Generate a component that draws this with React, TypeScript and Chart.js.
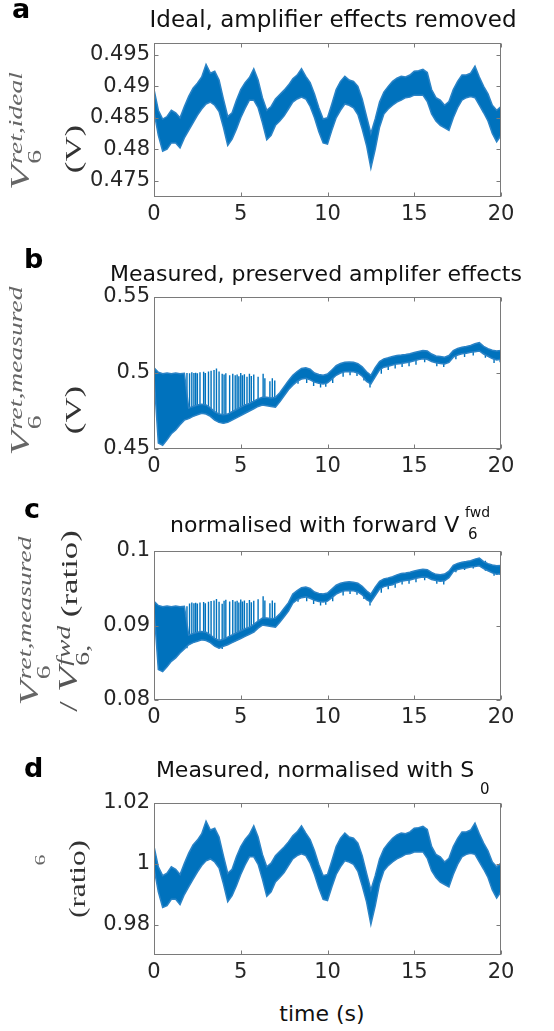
import React, { useEffect, useRef } from "react";
import { Chart, registerables } from "chart.js";
Chart.register(...registerables);

const BLUE = "#0072BD";
const EDGE = "#2a83c6";
const SANS = '"DejaVu Sans", sans-serif';
const SERIF = '"Liberation Serif", "DejaVu Serif", serif';

// time axis (s)
const time = [
  0, 0.25, 0.5, 0.75, 1, 1.25, 1.5, 1.75, 2, 2.25, 2.5, 2.75, 3, 3.25, 3.5, 3.75, 4, 4.25, 4.5, 4.75,
  5, 5.25, 5.5, 5.75, 6, 6.25, 6.5, 6.75, 7, 7.25, 7.5, 7.75, 8, 8.25, 8.5, 8.75, 9, 9.25, 9.5, 9.75,
  10, 10.25, 10.5, 10.75, 11, 11.25, 11.5, 11.75, 12, 12.25, 12.5, 12.75, 13, 13.25, 13.5, 13.75, 14, 14.25, 14.5, 14.75,
  15, 15.25, 15.5, 15.75, 16, 16.25, 16.5, 16.75, 17, 17.25, 17.5, 17.75, 18, 18.25, 18.5, 18.75, 19, 19.25, 19.5, 19.75, 20,
];
const xTicks = [0, 5, 10, 15, 20];

// (a) ideal return voltage: upper / lower envelope of the noisy trace (V)
const idealUpper = [
  0.4895, 0.4862, 0.4848, 0.4852, 0.4862, 0.4858, 0.4850, 0.4868, 0.4884, 0.4897,
  0.4905, 0.4915, 0.4935, 0.4921, 0.4924, 0.4910, 0.4880, 0.4852, 0.4858, 0.4878,
  0.4895, 0.4906, 0.4914, 0.4928, 0.4910, 0.4882, 0.4862, 0.4868, 0.4880, 0.4887,
  0.4894, 0.4902, 0.4912, 0.4918, 0.4928, 0.4916, 0.4906, 0.4888, 0.4866, 0.4848,
  0.4850, 0.4872, 0.4895, 0.4908, 0.4916, 0.4910, 0.4908, 0.4900, 0.4880, 0.4852,
  0.4825, 0.4848, 0.4875, 0.4891, 0.4900, 0.4908, 0.4913, 0.4916, 0.4915, 0.4918,
  0.4924, 0.4925, 0.4927, 0.4922, 0.4895, 0.4882, 0.4878, 0.4870, 0.4876, 0.4895,
  0.4908, 0.4918, 0.4918, 0.4921, 0.4932, 0.4915, 0.4900, 0.4888, 0.4870, 0.4862, 0.4868,
];
const idealLower = [
  0.4860, 0.4822, 0.4797, 0.4800, 0.4810, 0.4810, 0.4802, 0.4818, 0.4830, 0.4842,
  0.4854, 0.4864, 0.4872, 0.4875, 0.4870, 0.4860, 0.4835, 0.4806, 0.4816, 0.4832,
  0.4850, 0.4865, 0.4878, 0.4878, 0.4866, 0.4842, 0.4815, 0.4822, 0.4838, 0.4845,
  0.4853, 0.4864, 0.4875, 0.4880, 0.4883, 0.4880, 0.4868, 0.4850, 0.4828, 0.4810,
  0.4808, 0.4830, 0.4850, 0.4862, 0.4872, 0.4870, 0.4866, 0.4855, 0.4832, 0.4806,
  0.4770, 0.4800, 0.4835, 0.4856, 0.4864, 0.4870, 0.4875, 0.4878, 0.4882, 0.4883,
  0.4886, 0.4886, 0.4886, 0.4876, 0.4856, 0.4845, 0.4838, 0.4834, 0.4830, 0.4850,
  0.4866, 0.4878, 0.4882, 0.4884, 0.4882, 0.4870, 0.4858, 0.4845, 0.4825, 0.4812, 0.4822,
];
const idealTicks = [0.475, 0.48, 0.485, 0.49, 0.495];

// (b) measured return voltage (V)
const measuredUpper = [
  0.5035, 0.5005, 0.4995, 0.5000, 0.4995, 0.5000, 0.4995, 0.4998, 0.4770, 0.4780,
  0.4790, 0.4795, 0.4790, 0.4770, 0.4745, 0.4730, 0.4725, 0.4730, 0.4745, 0.4760,
  0.4775, 0.4790, 0.4800, 0.4815, 0.4830, 0.4840, 0.4840, 0.4835, 0.4840, 0.4870,
  0.4910, 0.4950, 0.4985, 0.5010, 0.5030, 0.5035, 0.5025, 0.5000, 0.4990, 0.4985,
  0.4993, 0.5020, 0.5048, 0.5062, 0.5070, 0.5072, 0.5070, 0.5062, 0.5040, 0.5008,
  0.4985, 0.5035, 0.5075, 0.5093, 0.5100, 0.5108, 0.5115, 0.5118, 0.5122, 0.5127,
  0.5135, 0.5142, 0.5148, 0.5145, 0.5125, 0.5112, 0.5108, 0.5104, 0.5115, 0.5148,
  0.5162, 0.5170, 0.5175, 0.5181, 0.5192, 0.5200, 0.5175, 0.5160, 0.5150, 0.5145, 0.5148,
];
const measuredLower = [
  0.4980, 0.4540, 0.4525, 0.4560, 0.4600, 0.4625, 0.4660, 0.4690, 0.4700, 0.4715,
  0.4725, 0.4735, 0.4730, 0.4715, 0.4690, 0.4675, 0.4670, 0.4675, 0.4690, 0.4705,
  0.4720, 0.4735, 0.4750, 0.4765, 0.4780, 0.4790, 0.4785, 0.4780, 0.4775, 0.4810,
  0.4850, 0.4890, 0.4920, 0.4945, 0.4960, 0.4965, 0.4955, 0.4940, 0.4932, 0.4928,
  0.4935, 0.4960, 0.4985, 0.5000, 0.5008, 0.5010, 0.5008, 0.5000, 0.4980, 0.4945,
  0.4928, 0.4975, 0.5020, 0.5038, 0.5045, 0.5052, 0.5060, 0.5063, 0.5068, 0.5072,
  0.5080, 0.5088, 0.5093, 0.5090, 0.5075, 0.5068, 0.5063, 0.5060, 0.5070, 0.5104,
  0.5118, 0.5126, 0.5130, 0.5137, 0.5140, 0.5145, 0.5125, 0.5110, 0.5095, 0.5085, 0.5090,
];
const measuredTicks = [0.45, 0.5, 0.55];

// spikes (switching glitches and dips) drawn as vertical strokes
const spikeTimes = [
  1.9, 2.05, 2.18, 2.3, 2.4, 2.5, 2.65, 2.86, 2.96, 3.14, 3.29, 3.46, 3.6, 3.75, 3.93, 4.04, 4.14, 4.36,
  4.54, 4.68, 4.79, 4.89, 5.0, 5.1, 5.21, 5.36, 5.5, 5.61, 5.75, 6.0, 6.29, 6.39, 6.68, 6.82, 6.96,
  8.3, 8.8, 9.2, 9.6, 9.9, 10.3, 10.9, 11.3, 11.7, 12.1, 12.45, 13.1, 13.5, 13.9, 14.3, 14.7, 15.1,
  15.6, 16.3, 16.7, 17.4, 17.9, 18.4, 19.1, 19.6, 19.95,
];
const measuredSpikeLow = [
  0.4695, 0.4700, 0.4710, 0.4715, 0.4720, 0.4725, 0.4730, 0.4735, 0.4730, 0.4725, 0.4712, 0.4695, 0.4685,
  0.4675, 0.4670, 0.4670, 0.4672, 0.4682, 0.4692, 0.4700, 0.4707, 0.4712, 0.4720, 0.4727, 0.4732, 0.4742,
  0.4750, 0.4756, 0.4765, 0.4780, 0.4790, 0.4788, 0.4782, 0.4780, 0.4776,
  0.4930, 0.4935, 0.4915, 0.4905, 0.4910, 0.4935, 0.4975, 0.4985, 0.4980, 0.4950, 0.4905, 0.4995, 0.5020,
  0.5030, 0.5040, 0.5045, 0.5055, 0.5070, 0.5045, 0.5040, 0.5090, 0.5105, 0.5115, 0.5100, 0.5065, 0.5070,
];
const measuredSpikeHigh = [
  0.5000, 0.4998, 0.5005, 0.5000, 0.5002, 0.4998, 0.5005, 0.5008, 0.5000, 0.5010, 0.5015, 0.5020, 0.5030,
  0.5010, 0.4995, 0.4990, 0.4998, 0.4985, 0.4995, 0.4985, 0.4990, 0.4978, 0.5000, 0.4985, 0.4992, 0.4975,
  0.4995, 0.4980, 0.4990, 0.4975, 0.4995, 0.4965, 0.4945, 0.4965, 0.4950,
  0.5000, 0.5020, 0.4990, 0.4980, 0.4985, 0.5010, 0.5050, 0.5060, 0.5050, 0.5020, 0.4980, 0.5070, 0.5090,
  0.5100, 0.5110, 0.5120, 0.5130, 0.5140, 0.5100, 0.5100, 0.5150, 0.5170, 0.5180, 0.5170, 0.5140, 0.5140,
];

// (c) measured return normalised with forward voltage (ratio)
const ratioUpper = [
  0.09325, 0.09269, 0.09251, 0.09260, 0.09251, 0.09260, 0.09251, 0.09256, 0.08872, 0.08891,
  0.08909, 0.08919, 0.08909, 0.08872, 0.08826, 0.08798, 0.08815, 0.08845, 0.08873, 0.08901,
  0.08929, 0.08957, 0.08976, 0.09015, 0.09060, 0.09099, 0.09099, 0.09090, 0.09099, 0.09156,
  0.09231, 0.09306, 0.09422, 0.09469, 0.09507, 0.09516, 0.09497, 0.09450, 0.09431, 0.09422,
  0.09437, 0.09488, 0.09541, 0.09567, 0.09582, 0.09586, 0.09582, 0.09567, 0.09526, 0.09465,
  0.09422, 0.09516, 0.09592, 0.09626, 0.09639, 0.09654, 0.09680, 0.09699, 0.09706, 0.09716,
  0.09731, 0.09744, 0.09755, 0.09750, 0.09712, 0.09687, 0.09680, 0.09690, 0.09730, 0.09807,
  0.09834, 0.09849, 0.09858, 0.09870, 0.09891, 0.09906, 0.09858, 0.09830, 0.09811, 0.09801, 0.09807,
];
const ratioLower = [
  0.09223, 0.08408, 0.08380, 0.08445, 0.08519, 0.08566, 0.08630, 0.08686, 0.08742, 0.08770,
  0.08789, 0.08807, 0.08798, 0.08770, 0.08723, 0.08696, 0.08720, 0.08742, 0.08770, 0.08798,
  0.08826, 0.08854, 0.08883, 0.08911, 0.08965, 0.09005, 0.08996, 0.08986, 0.08977, 0.09043,
  0.09118, 0.09193, 0.09299, 0.09346, 0.09374, 0.09384, 0.09365, 0.09337, 0.09321, 0.09314,
  0.09327, 0.09374, 0.09422, 0.09450, 0.09465, 0.09469, 0.09465, 0.09450, 0.09412, 0.09346,
  0.09314, 0.09403, 0.09488, 0.09522, 0.09535, 0.09548, 0.09575, 0.09594, 0.09604, 0.09611,
  0.09627, 0.09642, 0.09651, 0.09646, 0.09617, 0.09604, 0.09594, 0.09600, 0.09640, 0.09723,
  0.09750, 0.09765, 0.09773, 0.09786, 0.09792, 0.09801, 0.09763, 0.09735, 0.09706, 0.09687, 0.09696,
];
const ratioSpikeLow = [
  0.08695, 0.08742, 0.08761, 0.08770, 0.08779, 0.08789, 0.08798, 0.08807, 0.08798, 0.08789, 0.08764, 0.08733, 0.08714,
  0.08696, 0.08686, 0.08733, 0.08737, 0.08755, 0.08774, 0.08789, 0.08802, 0.08811, 0.08826, 0.08839, 0.08849, 0.08868,
  0.08883, 0.08894, 0.08911, 0.08986, 0.09005, 0.09001, 0.08990, 0.08986, 0.08979,
  0.09318, 0.09327, 0.09289, 0.09270, 0.09280, 0.09327, 0.09403, 0.09422, 0.09412, 0.09356, 0.09270, 0.09441, 0.09488,
  0.09507, 0.09551, 0.09560, 0.09579, 0.09608, 0.09560, 0.09551, 0.09716, 0.09745, 0.09764, 0.09736, 0.09669, 0.09678,
];
const ratioSpikeHigh = [
  0.09260, 0.09296, 0.09309, 0.09300, 0.09304, 0.09296, 0.09309, 0.09315, 0.09300, 0.09319, 0.09328, 0.09337, 0.09356,
  0.09319, 0.09291, 0.09331, 0.09346, 0.09322, 0.09341, 0.09322, 0.09331, 0.09309, 0.09350, 0.09322, 0.09335, 0.09303,
  0.09341, 0.09313, 0.09331, 0.09353, 0.09391, 0.09334, 0.09297, 0.09334, 0.09306,
  0.09450, 0.09488, 0.09431, 0.09412, 0.09422, 0.09469, 0.09545, 0.09563, 0.09545, 0.09488, 0.09412, 0.09582, 0.09620,
  0.09639, 0.09683, 0.09702, 0.09721, 0.09740, 0.09665, 0.09665, 0.09811, 0.09849, 0.09868, 0.09868, 0.09802, 0.09802,
];
const ratioTicks = [0.08, 0.09, 0.1];

// (d) measured, normalised with S0 (ratio)
const normUpper = [
  1.0057, 0.9990, 0.9961, 0.9969, 0.9990, 0.9982, 0.9965, 1.0002, 1.0035, 1.0062,
  1.0078, 1.0099, 1.0140, 1.0111, 1.0117, 1.0088, 1.0027, 0.9969, 0.9982, 1.0023,
  1.0057, 1.0080, 1.0097, 1.0125, 1.0088, 1.0031, 0.9990, 1.0002, 1.0027, 1.0041,
  1.0055, 1.0072, 1.0092, 1.0105, 1.0125, 1.0101, 1.0080, 1.0043, 0.9998, 0.9961,
  0.9965, 1.0010, 1.0057, 1.0084, 1.0101, 1.0088, 1.0084, 1.0068, 1.0027, 0.9969,
  0.9914, 0.9961, 1.0016, 1.0049, 1.0068, 1.0084, 1.0095, 1.0101, 1.0099, 1.0105,
  1.0117, 1.0119, 1.0123, 1.0113, 1.0057, 1.0031, 1.0023, 1.0006, 1.0018, 1.0057,
  1.0084, 1.0105, 1.0105, 1.0111, 1.0134, 1.0099, 1.0068, 1.0043, 1.0006, 0.9990, 1.0002,
];
const normLower = [
  0.9986, 0.9908, 0.9856, 0.9862, 0.9883, 0.9883, 0.9866, 0.9899, 0.9924, 0.9949,
  0.9973, 0.9994, 1.0010, 1.0016, 1.0006, 0.9986, 0.9934, 0.9875, 0.9895, 0.9928,
  0.9965, 0.9996, 1.0023, 1.0023, 0.9998, 0.9949, 0.9893, 0.9908, 0.9940, 0.9955,
  0.9971, 0.9994, 1.0016, 1.0027, 1.0033, 1.0027, 1.0002, 0.9965, 0.9920, 0.9883,
  0.9879, 0.9924, 0.9965, 0.9990, 1.0010, 1.0006, 0.9998, 0.9975, 0.9928, 0.9875,
  0.9801, 0.9862, 0.9934, 0.9977, 0.9994, 1.0006, 1.0016, 1.0023, 1.0031, 1.0033,
  1.0039, 1.0039, 1.0039, 1.0018, 0.9977, 0.9955, 0.9940, 0.9932, 0.9924, 0.9965,
  0.9998, 1.0023, 1.0031, 1.0035, 1.0031, 1.0006, 0.9982, 0.9955, 0.9914, 0.9887, 0.9908,
];
const normTicks = [0.98, 1, 1.02];

const boxPlugin = {
  id: "matlabBox",
  afterDatasetsDraw(chart: any) {
    const { ctx, chartArea: a, scales } = chart;
    ctx.save();
    ctx.strokeStyle = "#7a7a7a";
    ctx.lineWidth = 1;
    const L = Math.round(a.left) + 0.5, R = Math.round(a.right) - 0.5;
    const T = Math.round(a.top) + 0.5, B = Math.round(a.bottom) - 0.5;
    ctx.strokeRect(L, T, R - L, B - T);
    const tl = 4;
    ctx.beginPath();
    scales.x.ticks.forEach((t: any) => {
      const px = Math.round(scales.x.getPixelForValue(t.value)) + 0.5;
      ctx.moveTo(px, B); ctx.lineTo(px, B - tl);
      ctx.moveTo(px, T); ctx.lineTo(px, T + tl);
    });
    scales.y.ticks.forEach((t: any) => {
      const py = Math.round(scales.y.getPixelForValue(t.value)) + 0.5;
      ctx.moveTo(L, py); ctx.lineTo(L + tl, py);
      ctx.moveTo(R, py); ctx.lineTo(R - tl, py);
    });
    ctx.stroke();
    ctx.restore();
  },
};

type PanelProps = {
  top: number; height: number; boxTop: number; boxBottom: number;
  yMin: number; yMax: number; yTicks: number[];
  upper: number[]; lower: number[];
  spikeLow?: number[]; spikeHigh?: number[];
};

function Panel(p: PanelProps) {
  const ref = useRef<HTMLCanvasElement>(null);
  useEffect(() => {
    const pts = (arr: number[]) => time.map((t, i) => ({ x: t, y: arr[i] }));
    const datasets: any[] = [
      { data: pts(p.lower), borderColor: EDGE, borderWidth: 1.5, pointRadius: 0, fill: false },
      { data: pts(p.upper), borderColor: EDGE, borderWidth: 1.5, pointRadius: 0, backgroundColor: BLUE, fill: "-1" },
    ];
    if (p.spikeLow && p.spikeHigh) {
      const lo = p.spikeLow, hi = p.spikeHigh;
      datasets.push({
        data: spikeTimes.flatMap((t, i) => [{ x: t, y: lo[i] }, { x: t, y: hi[i] }, { x: t, y: null }]),
        borderColor: BLUE, borderWidth: 1.4, pointRadius: 0, fill: false, spanGaps: false,
      });
    }
    const tickFont = { family: SANS, size: 21 };
    const chart = new Chart(ref.current as HTMLCanvasElement, {
      type: "line",
      data: { datasets },
      plugins: [boxPlugin],
      options: {
        responsive: false,
        animation: false,
        layout: { padding: { top: p.boxTop, right: 53, left: 0, bottom: 0 } },
        plugins: { legend: { display: false }, tooltip: { enabled: false }, title: { display: false } },
        scales: {
          x: {
            type: "linear", min: 0, max: 20,
            grid: { display: false, drawTicks: false }, border: { display: false },
            afterBuildTicks: (s: any) => { s.ticks = xTicks.map((v) => ({ value: v })); },
            afterFit: (s: any) => { s.height = p.height - p.boxBottom; },
            ticks: { font: tickFont, color: "#262626", padding: 5, maxRotation: 0, autoSkip: false, callback: (v: any) => String(v) },
          },
          y: {
            type: "linear", min: p.yMin, max: p.yMax,
            grid: { display: false, drawTicks: false }, border: { display: false },
            afterBuildTicks: (s: any) => { s.ticks = p.yTicks.map((v) => ({ value: v })); },
            afterFit: (s: any) => { s.width = 154; },
            ticks: { font: tickFont, color: "#262626", padding: 4, autoSkip: false, callback: (v: any) => String(v) },
          },
        },
      } as any,
    });
    return () => chart.destroy();
  }, []);
  return (
    <canvas ref={ref} width={554} height={p.height}
      style={{ position: "absolute", left: 0, top: p.top, width: 554, height: p.height }} />
  );
}

function Abs({ left, top, style, children }: any) {
  return (
    <div style={{ position: "absolute", left, top, whiteSpace: "nowrap", ...style }}>{children}</div>
  );
}

function RotLabel({ cx, cy, sx = 1.45, color = "#555", children }: any) {
  return (
    <div style={{
      position: "absolute", left: cx, top: cy, whiteSpace: "nowrap", fontFamily: SERIF, color, lineHeight: 1,
      transform: `translate(-50%,-50%) rotate(-90deg) scaleX(${sx})`,
    }}>{children}</div>
  );
}

function VScript({ sup, sub, base = 28, small = 19 }: any) {
  return (
    <span>
      <span style={{ fontStyle: "italic", fontSize: base }}>V</span>
      <span style={{ display: "inline-flex", flexDirection: "column", verticalAlign: "middle", lineHeight: 1, marginLeft: 1 }}>
        <span style={{ fontStyle: "italic", fontSize: small }}>{sup}</span>
        <span style={{ fontSize: small }}>{sub}</span>
      </span>
    </span>
  );
}

const titleStyle = { fontFamily: SANS, fontSize: 22, lineHeight: "22px", color: "#111" };
const letterStyle = { fontFamily: SANS, fontSize: 27, lineHeight: "27px", fontWeight: "bold", color: "#000" };

export default function App() {
  return (
    <div style={{ position: "absolute", left: 0, top: 0, width: 554, height: 1031, background: "#fff", overflow: "hidden" }}>
      <Panel top={0} height={245} boxTop={43} boxBottom={197} yMin={0.4724} yMax={0.4969} yTicks={idealTicks}
        upper={idealUpper} lower={idealLower} />
      <Panel top={245} height={255} boxTop={52} boxBottom={204} yMin={0.45} yMax={0.55} yTicks={measuredTicks}
        upper={measuredUpper} lower={measuredLower} spikeLow={measuredSpikeLow} spikeHigh={measuredSpikeHigh} />
      <Panel top={500} height={255} boxTop={51} boxBottom={200} yMin={0.08} yMax={0.1} yTicks={ratioTicks}
        upper={ratioUpper} lower={ratioLower} spikeLow={ratioSpikeLow} spikeHigh={ratioSpikeHigh} />
      <Panel top={755} height={245} boxTop={48} boxBottom={200} yMin={0.97} yMax={1.02} yTicks={normTicks}
        upper={normUpper} lower={normLower} />

      {/* panel letters */}
      <Abs left={12} top={-5} style={letterStyle}>a</Abs>
      <Abs left={24} top={245} style={letterStyle}>b</Abs>
      <Abs left={24} top={495} style={letterStyle}>c</Abs>
      <Abs left={24} top={754} style={letterStyle}>d</Abs>

      {/* titles */}
      <Abs left={333} top={8} style={{ ...titleStyle, fontSize: 23, lineHeight: "23px", transform: "translateX(-50%)" }}>Ideal, amplifier effects removed</Abs>
      <Abs left={316} top={263} style={{ ...titleStyle, transform: "translateX(-50%)" }}>Measured, preserved amplifer effects</Abs>
      <Abs left={170} top={514} style={titleStyle}>normalised with forward V</Abs>
      <Abs left={465} top={505} style={{ fontFamily: SANS, fontSize: 14, lineHeight: "14px", color: "#111" }}>fwd</Abs>
      <Abs left={468} top={527} style={{ fontFamily: SANS, fontSize: 15, lineHeight: "15px", color: "#111" }}>6</Abs>
      <Abs left={315} top={759} style={{ ...titleStyle, transform: "translateX(-50%)" }}>Measured, normalised with S</Abs>
      <Abs left={480} top={782} style={{ fontFamily: SANS, fontSize: 15, lineHeight: "15px", color: "#111" }}>0</Abs>

      {/* x label */}
      <Abs left={322} top={1003} style={{ ...titleStyle, transform: "translateX(-50%)" }}>time (s)</Abs>

      {/* y labels */}
      <RotLabel cx={25} cy={131} color="#666"><VScript sup="ret,ideal" sub="6" /></RotLabel>
      <RotLabel cx={73} cy={149} color="#333"><span style={{ fontSize: 24 }}>(V)</span></RotLabel>

      <RotLabel cx={25} cy={371} color="#666"><VScript sup="ret,measured" sub="6" /></RotLabel>
      <RotLabel cx={73} cy={410} color="#333"><span style={{ fontSize: 24 }}>(V)</span></RotLabel>

      <RotLabel cx={34} cy={621} color="#666"><VScript sup="ret,measured" sub="6" /></RotLabel>
      <RotLabel cx={73} cy={621} color="#555">
        <span style={{ fontSize: 26 }}>/ </span>
        <VScript sup="fwd" sub="6," />
        <span style={{ fontSize: 24, color: "#333" }}> (ratio)</span>
      </RotLabel>

      <RotLabel cx={40} cy={860} color="#666"><span style={{ fontSize: 15 }}>6</span></RotLabel>
      <RotLabel cx={77} cy={879} color="#333" sx={1.3}><span style={{ fontSize: 24 }}>(ratio)</span></RotLabel>
    </div>
  );
}
